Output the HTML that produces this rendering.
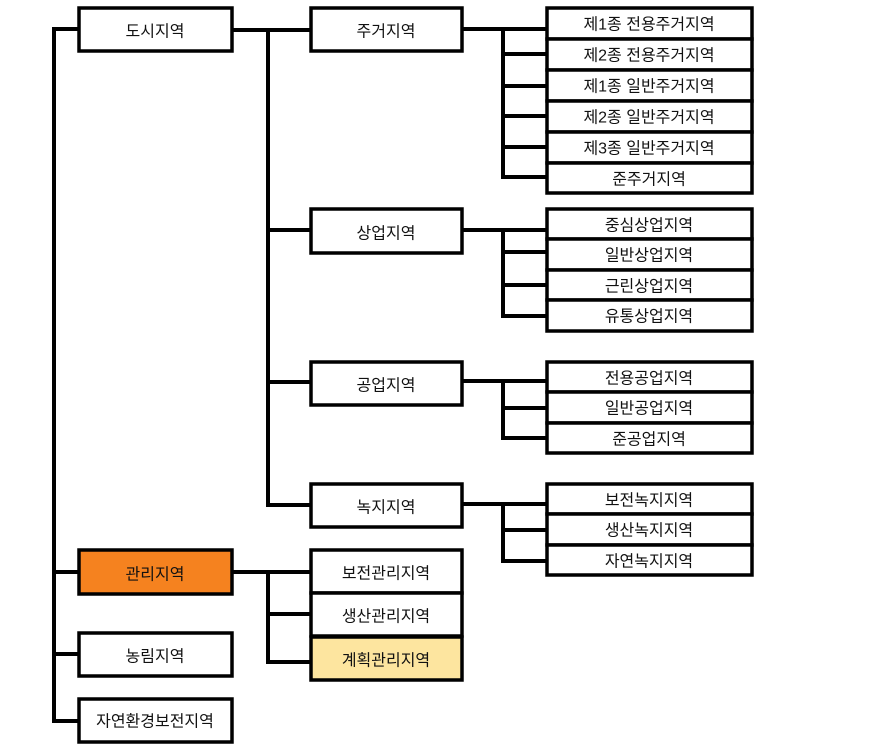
<!DOCTYPE html>
<html><head><meta charset="utf-8"><style>
html,body{margin:0;padding:0;background:#fff;}
svg{display:block}
text{font-family:"Liberation Sans","Noto Sans CJK KR","NanumGothic",sans-serif;font-size:16px;fill:#111;text-anchor:middle;dominant-baseline:central}
</style></head><body>
<svg width="875" height="754" viewBox="0 0 875 754" xmlns="http://www.w3.org/2000/svg">
<g stroke="#000" stroke-width="4" fill="none">
<polyline points="78,29 54,29 54,721 78,721"/>
<line x1="54" y1="572" x2="78" y2="572"/>
<line x1="54" y1="654" x2="78" y2="654"/>
<line x1="232" y1="30" x2="310" y2="30"/>
<polyline points="268,30 268,505 310,505"/>
<line x1="268" y1="230" x2="310" y2="230"/>
<line x1="268" y1="382" x2="310" y2="382"/>
<line x1="232" y1="572" x2="310" y2="572"/>
<polyline points="268,572 268,662 310,662"/>
<line x1="268" y1="614" x2="310" y2="614"/>
<line x1="462" y1="29" x2="546" y2="29"/>
<polyline points="503,29 503,177 546,177"/>
<line x1="503" y1="54" x2="546" y2="54"/>
<line x1="503" y1="86" x2="546" y2="86"/>
<line x1="503" y1="116" x2="546" y2="116"/>
<line x1="503" y1="147" x2="546" y2="147"/>
<line x1="462" y1="230" x2="546" y2="230"/>
<polyline points="503,230 503,316 546,316"/>
<line x1="503" y1="252" x2="546" y2="252"/>
<line x1="503" y1="285" x2="546" y2="285"/>
<line x1="462" y1="381" x2="546" y2="381"/>
<polyline points="503,381 503,438 546,438"/>
<line x1="503" y1="408" x2="546" y2="408"/>
<line x1="462" y1="504" x2="546" y2="504"/>
<polyline points="503,504 503,561 546,561"/>
<line x1="503" y1="530" x2="546" y2="530"/>
</g>
<g stroke="#000" stroke-width="3.5" fill="#fff">
<rect x="79" y="8" width="153" height="43"/>
<rect x="79" y="550" width="153" height="44" fill="#f5821f"/>
<rect x="79" y="633" width="153" height="43"/>
<rect x="79" y="699" width="153" height="43"/>
<rect x="311" y="8" width="151" height="43"/>
<rect x="311" y="209" width="151" height="44"/>
<rect x="311" y="362" width="151" height="43"/>
<rect x="311" y="484" width="151" height="43"/>
<rect x="311" y="550" width="151" height="43"/>
<rect x="311" y="593" width="151" height="43"/>
<rect x="311" y="637" width="151" height="43" fill="#fde59f"/>
<rect x="547" y="8" width="205" height="31"/>
<rect x="547" y="39" width="205" height="31"/>
<rect x="547" y="70" width="205" height="31"/>
<rect x="547" y="101" width="205" height="31"/>
<rect x="547" y="132" width="205" height="31"/>
<rect x="547" y="163" width="205" height="30"/>
<rect x="547" y="209" width="205" height="30"/>
<rect x="547" y="239" width="205" height="31"/>
<rect x="547" y="270" width="205" height="30"/>
<rect x="547" y="300" width="205" height="31"/>
<rect x="547" y="362" width="205" height="30"/>
<rect x="547" y="392" width="205" height="31"/>
<rect x="547" y="423" width="205" height="30"/>
<rect x="547" y="484" width="205" height="30"/>
<rect x="547" y="514" width="205" height="31"/>
<rect x="547" y="545" width="205" height="30"/>
</g>
<text x="155" y="32">도시지역</text>
<text x="155" y="575">관리지역</text>
<text x="155" y="657">농림지역</text>
<text x="155" y="722">자연환경보전지역</text>
<text x="386" y="32">주거지역</text>
<text x="386" y="234">상업지역</text>
<text x="386" y="386">공업지역</text>
<text x="386" y="508">녹지지역</text>
<text x="386" y="574">보전관리지역</text>
<text x="386" y="617">생산관리지역</text>
<text x="386" y="661">계획관리지역</text>
<text x="649" y="25">제1종 전용주거지역</text>
<text x="649" y="56">제2종 전용주거지역</text>
<text x="649" y="87">제1종 일반주거지역</text>
<text x="649" y="118">제2종 일반주거지역</text>
<text x="649" y="149">제3종 일반주거지역</text>
<text x="649" y="180">준주거지역</text>
<text x="649" y="226">중심상업지역</text>
<text x="649" y="256">일반상업지역</text>
<text x="649" y="287">근린상업지역</text>
<text x="649" y="317">유통상업지역</text>
<text x="649" y="379">전용공업지역</text>
<text x="649" y="409">일반공업지역</text>
<text x="649" y="440">준공업지역</text>
<text x="649" y="501">보전녹지지역</text>
<text x="649" y="531">생산녹지지역</text>
<text x="649" y="562">자연녹지지역</text>
</svg>
</body></html>
